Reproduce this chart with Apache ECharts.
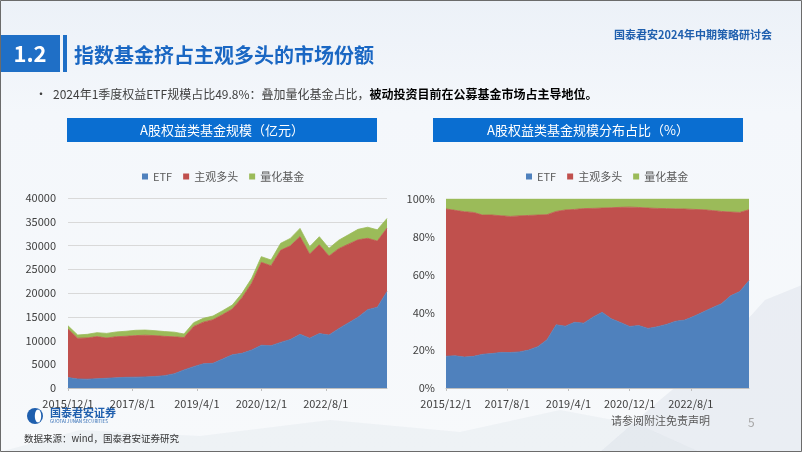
<!DOCTYPE html>
<html><head><meta charset="utf-8">
<script src="https://cdn.jsdelivr.net/npm/echarts@6/dist/echarts.min.js"></script>
<style>
html,body{margin:0;padding:0;background:#f6f8fb;}
#chart{width:802px;height:452px;background:linear-gradient(180deg,#ecf1f8 0%,#f4f7fb 25%,#f7f9fb 100%);}
</style></head><body>
<div id="chart"></div>
<script>
// quarterly observation dates
const dates = ['2015/12','2016/3','2016/6','2016/9','2016/12','2017/3','2017/6','2017/9','2017/12','2018/3','2018/6','2018/9','2018/12','2019/3','2019/6','2019/9','2019/12','2020/3','2020/6','2020/9','2020/12','2021/3','2021/6','2021/9','2021/12','2022/3','2022/6','2022/9','2022/12','2023/3','2023/6','2023/9','2023/12','2024/3'];
// 亿元
const etf    = [2200,1900,1850,1950,2050,2150,2250,2280,2330,2420,2600,3000,3800,4500,5100,5200,6100,7000,7300,8000,9000,8900,9600,10200,11300,10500,11450,11150,12500,13700,14900,16500,17000,20300];
const active = [10210,8590,8690,8870,8470,8650,8640,8750,8780,8600,8270,7780,6820,8450,8760,9180,9370,9630,11710,14070,17460,16840,19400,19730,20590,17700,18710,16630,16830,16580,16300,15010,13940,13370];
const quant  = [690,670,760,830,980,1000,1060,1120,1090,1050,1010,975,750,800,810,770,810,840,920,1020,1190,1210,1460,1570,1710,1550,1690,1620,1770,1970,2200,2340,2360,2030];
const seriesNames = ['ETF','主观多头','量化基金'];
const xTickLabels = ['2015/12/1','2017/8/1','2019/4/1','2020/12/1','2022/8/1'];
const leftTitle = 'A股权益类基金规模（亿元）';
const rightTitle = 'A股权益类基金规模分布占比（%）';

const FONT = '"Microsoft YaHei","Noto Sans CJK SC","Noto Sans",sans-serif';
const colors = ['#4f81bd','#c0504d','#9bbb59'];

const totals = etf.map((v,i)=>v+active[i]+quant[i]);
const raw = [etf,active,quant];
const shares = raw.map(arr=>arr.map((v,i)=>v/totals[i]*100));
// months elapsed since 2015/12 for the label axis range
function monthIdx(d){const [y,m]=d.split('/').map(Number);return (y-2015)*12+m-12;}
const lastMonth = monthIdx(dates[dates.length-1]);

const chart = echarts.init(document.getElementById('chart'),null,{renderer:'canvas'});

function catAxis(gi){
  return {type:'category',gridIndex:gi,data:dates,boundaryGap:false,show:false};
}
function labelAxis(gi){
  return {type:'value',gridIndex:gi,min:0,max:lastMonth,interval:20,position:'bottom',
    axisLine:{show:true,lineStyle:{color:'#bfbfbf'}},
    axisTick:{show:true,length:3,lineStyle:{color:'#bfbfbf'}},
    splitLine:{show:false},
    axisLabel:{color:'#404040',fontSize:11,fontFamily:FONT,margin:10,showMaxLabel:false,
      formatter:v=> (v%20===0 && xTickLabels[v/20]) ? xTickLabels[v/20] : ''}};
}
function mkSeries(arrs,xi,yi,stack){
  return arrs.map((arr,k)=>({
    name:seriesNames[k],type:'line',xAxisIndex:xi,yAxisIndex:yi,stack:stack,
    data:arr,symbol:'none',silent:true,
    lineStyle:{width:0.8,color:colors[k]},itemStyle:{color:colors[k]},
    areaStyle:{color:colors[k],opacity:1}
  }));
}
const legendBase = {data:seriesNames,icon:'rect',itemWidth:6,itemHeight:6,itemGap:11,
  textStyle:{color:'#595959',fontSize:11,fontFamily:FONT},selectedMode:false};

const option = {
  animation:false,
  backgroundColor:'transparent',
  textStyle:{fontFamily:FONT},
  grid:[{left:68,top:198,width:319,height:190},{left:446,top:199,width:303,height:189}],
  legend:[Object.assign({left:137,top:166},legendBase),Object.assign({left:521,top:166},legendBase)],
  xAxis:[catAxis(0),catAxis(1),labelAxis(0),labelAxis(1)],
  yAxis:[
    {type:'value',gridIndex:0,min:0,max:40000,interval:5000,axisLine:{show:false},axisTick:{show:false},
     splitLine:{lineStyle:{color:'#d9d9d9'}},axisLabel:{color:'#404040',fontSize:11,fontFamily:FONT,margin:12,formatter:v=>String(v)}},
    {type:'value',gridIndex:1,min:0,max:100,interval:20,axisLine:{show:false},axisTick:{show:false},
     splitLine:{show:false},axisLabel:{color:'#404040',fontSize:11,fontFamily:FONT,margin:11,formatter:'{value}%'}}
  ],
  series:[...mkSeries(raw,0,0,'L'),...mkSeries(shares,1,1,'R')],
  graphic:[
    {type:'polygon',silent:true,z:-10,shape:{points:[[600,452],[660,400],[720,350],[765,300],[802,285],[802,452]]},style:{fill:'rgba(190,200,214,0.22)'}},
    {type:'polygon',silent:true,z:-10,shape:{points:[[0,452],[80,430],[200,436],[330,420],[460,432],[560,410],[640,425],[700,452]]},style:{fill:'rgba(200,210,222,0.18)'}},
    {type:'rect',shape:{x:0,y:35,width:60,height:37},style:{fill:'#1f6fc6'}},
    {type:'text',x:30,y:54,style:{text:'1.2',fill:'#ffffff',font:'bold 22px '+FONT,textAlign:'center',textVerticalAlign:'middle'}},
    {type:'rect',shape:{x:63,y:35,width:4,height:37},style:{fill:'#1f6fc6'}},
    {type:'text',x:74,y:55,style:{text:'指数基金挤占主观多头的市场份额',fill:'#1a67c3',font:'bold 20px '+FONT,textVerticalAlign:'middle'}},
    {type:'text',x:772,y:35,style:{text:'国泰君安2024年中期策略研讨会',fill:'#1f5fae',font:'bold 11px '+FONT,textAlign:'right',textVerticalAlign:'middle'}},
    {type:'text',x:35,y:94,style:{text:'•',fill:'#404040',font:'12px '+FONT,textVerticalAlign:'middle'}},
    {type:'text',x:53,y:94,style:{text:'{a|2024年1季度权益ETF规模占比49.8%：叠加量化基金占比，}{b|被动投资目前在公募基金市场占主导地位。}',
      textVerticalAlign:'middle',
      rich:{a:{fill:'#404040',fontSize:12,fontFamily:FONT},b:{fill:'#000000',fontSize:12,fontWeight:'bold',fontFamily:FONT}}}},
    {type:'rect',shape:{x:67,y:118,width:310,height:24},style:{fill:'#0a6ed1'}},
    {type:'text',x:222,y:130,style:{text:leftTitle,fill:'#ffffff',font:'13px '+FONT,textAlign:'center',textVerticalAlign:'middle'}},
    {type:'rect',shape:{x:433,y:118,width:310,height:24},style:{fill:'#0a6ed1'}},
    {type:'text',x:588,y:130,style:{text:rightTitle,fill:'#ffffff',font:'13px '+FONT,textAlign:'center',textVerticalAlign:'middle'}},
    {type:'circle',shape:{cx:35,cy:416,r:8},style:{fill:'#1f5fae'}},
    {type:'ellipse',shape:{cx:38,cy:416,rx:3.2,ry:6.5},style:{fill:'#ffffff'}},
    {type:'text',x:50,y:413,style:{text:'国泰君安证券',fill:'#1f5fae',font:'bold 11px '+FONT,textVerticalAlign:'middle'}},
    {type:'text',x:50,y:421.5,style:{text:'GUOTAI JUNAN SECURITIES',fill:'#1f5fae',font:'4.5px '+FONT,textVerticalAlign:'middle'}},
    {type:'text',x:24,y:438,style:{text:'数据来源：wind，国泰君安证券研究',fill:'#333333',font:'9.5px '+FONT,textVerticalAlign:'middle'}},
    {type:'text',x:611,y:421,style:{text:'请参阅附注免责声明',fill:'#595959',font:'11px '+FONT,textVerticalAlign:'middle'}},
    {type:'text',x:748,y:422,style:{text:'5',fill:'#a6a6a6',font:'12px '+FONT,textVerticalAlign:'middle'}},
    {type:'rect',silent:true,shape:{x:0.5,y:0.5,width:801,height:451},style:{fill:'none',stroke:'#6b6b6b',lineWidth:1}}
  ]
};
chart.setOption(option);
</script>
</body></html>
